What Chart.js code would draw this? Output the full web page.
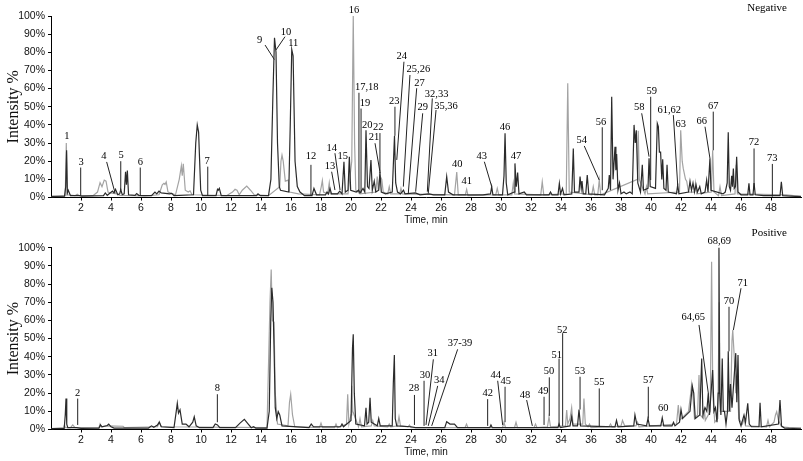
<!DOCTYPE html>
<html>
<head>
<meta charset="utf-8">
<script src="https://cdn.jsdelivr.net/npm/chart.js@4.4.1/dist/chart.umd.min.js"></script>
<style>
  body { margin: 0; background: #fff; }
  .panel { position: absolute; left: 0; width: 803px; }
  #negWrap { top: 0; height: 230px; }
  #posWrap { top: 225px; height: 236px; }
</style>
</head>
<body>
<div id="negWrap" class="panel"><canvas id="negChart"></canvas></div>
<div id="posWrap" class="panel"><canvas id="posChart"></canvas></div>
<script>
// axis ticks
const timeTicks = [2, 4, 6, 8, 10, 12, 14, 16, 18, 20, 22, 24, 26, 28, 30, 32, 34, 36, 38, 40, 42, 44, 46, 48];
const pctTicks = [0, 10, 20, 30, 40, 50, 60, 70, 80, 90, 100];

// Negative mode trace, [time min, intensity %] - dark trace
const negDark = [
  [0.05,0.6],[0.9,0.7],[0.98,6],[1.04,26],[1.09,2.5],[1.15,4],[1.3,1],[1.9,1],[2.05,0.8],[3.5,1],[3.62,2.5],[3.75,1.2],
  [4.1,3.5],[4.2,2.5],[4.3,4.5],[4.45,1.5],[4.58,2],[4.65,4.4],[4.75,1.5],[4.88,2],[4.97,14.2],[5.03,7],[5.09,14.8],[5.17,1.5],
  [5.6,1.2],[5.71,2.2],[5.85,1.2],[6.7,1],[6.93,3],[7.05,2],[7.2,3.5],[7.35,2.5],[7.9,2],[8.05,2.3],[8.2,1],[9.5,1.5],
  [9.65,30],[9.75,40],[9.84,36],[9.98,4],[10.1,1],[11.0,1],[11.1,4.5],[11.15,4],[11.22,5],[11.35,1],[13.7,1],[13.8,2],[13.95,1],
  [14.5,1],[14.66,10],[14.79,55],[14.9,88],[14.95,84],[15.0,80],[15.1,30],[15.22,6],[15.3,4],[15.85,3],[15.95,40],[16.05,81.5],
  [16.14,78],[16.27,20],[16.42,6],[16.6,3],[16.9,1],[17.4,1],[17.53,5],[17.7,1.5],[18.3,1.5],[18.4,3],[18.5,2],[18.6,5],[18.7,2],
  [19.1,2],[19.25,3.5],[19.4,2],[19.53,19.7],[19.62,3],[19.8,4],[19.89,22.5],[19.98,4],[20.35,3],[20.5,4],[20.6,2.5],[20.8,5],
  [20.92,3],[21.0,37],[21.1,6],[21.2,5],[21.33,20.7],[21.42,4],[21.55,9],[21.65,3],[21.85,4],[21.93,14],[22.02,3],[22.3,2],
  [22.75,3],[22.9,34],[22.98,8],[23.1,3],[23.3,2],[23.5,4],[23.6,2],[24.3,2.5],[24.6,1.5],[25.2,2],[25.5,1.5],[26.25,1.5],
  [26.38,11.5],[26.5,3],[26.8,1.5],[28.8,1.5],[29.3,2],[29.38,6],[29.46,1.5],[30.1,1.5],[30.2,12],[30.27,35.4],[30.35,8],
  [30.45,1.5],[30.88,3],[30.93,18.8],[31.02,6],[31.11,13.7],[31.2,2],[31.55,3],[31.7,1.5],[33.2,1.5],[33.3,3],[33.4,1.5],
  [33.8,1.5],[33.89,7.8],[33.97,2],[34.1,5],[34.2,1.5],[34.72,2],[34.82,27],[34.9,3],[35.2,3],[35.27,11.5],[35.35,5],[35.4,9],
  [35.48,2],[35.65,2],[35.75,12.4],[35.85,2],[36.9,1.5],[37.15,5],[37.22,12.4],[37.3,4],[37.38,55.5],[37.47,10],[37.6,28],
  [37.66,15],[37.71,24],[37.8,4],[37.9,8],[38.0,2],[38.2,3],[38.35,2],[38.6,3],[38.75,2],[38.87,40],[38.95,30],[39.02,37],
  [39.12,8],[39.3,3],[39.42,18],[39.5,4],[39.8,5],[39.87,21.6],[39.95,6],[40.3,5],[40.42,40.8],[40.49,39],[40.56,25],[40.64,25],
  [40.72,10],[40.78,21],[40.86,5],[41.0,4],[41.07,18],[41.15,3],[41.7,2],[41.78,7],[41.86,2],[42.5,3],[42.6,9],[42.7,4],
  [42.8,8],[42.9,3],[43.0,7],[43.1,3],[43.25,6],[43.35,2],[43.6,3],[43.71,9.6],[43.8,3],[43.93,21.6],[44.0,4],[44.8,2],
  [44.95,3],[45.08,8],[45.15,36],[45.22,6],[45.3,4],[45.38,12],[45.43,6],[45.49,16],[45.55,5],[45.63,6],[45.71,22.5],[45.8,3],
  [46.0,1.5],[46.45,1.5],[46.53,7.8],[46.6,1.5],[46.8,1.5],[46.87,8],[46.95,1.5],[47.5,1],[48.6,1],[48.69,8.7],[48.78,1],
  [49.3,0.8],[50,0.5]
];
// Negative mode trace - light trace
const negLight = [
  [0.05,0.5],[0.95,1],[1.02,30],[1.08,1.5],[1.6,1],[1.75,1.8],[1.9,1],[2.8,1],[3.1,3],[3.27,8.2],[3.4,6],[3.55,9.6],[3.67,9],
  [3.8,3],[3.95,2.5],[4.4,2],[4.6,1.2],[5.5,1],[6.2,0.8],[7.2,1.5],[7.42,7],[7.53,7.8],[7.6,7.2],[7.68,8.6],[7.8,3],[8.3,1.5],
  [8.55,10],[8.69,17.4],[8.75,12],[8.82,18.6],[8.95,4],[9.15,3],[9.27,3.7],[9.4,1.5],[11.7,1],[12.1,3],[12.27,4.5],[12.4,4],
  [12.55,1.5],[12.75,4],[13.05,6.3],[13.3,4],[13.55,1.5],[14.5,1],[15.25,6],[15.33,20],[15.4,23.4],[15.48,20],[15.62,9],
  [15.82,9.6],[15.9,3],[16.5,2],[17.9,1.5],[18.02,6],[18.09,9.3],[18.17,3],[18.45,2],[18.55,8],[18.63,2],[19.8,2],[20.05,20],
  [20.15,100],[20.24,30],[20.32,4],[20.6,2],[21.65,3],[21.75,11.5],[21.82,4],[21.93,12],[22.05,10],[22.15,3],[22.45,2],
  [22.55,6],[22.65,2],[23.25,2],[23.33,5],[23.42,2],[26.9,1.5],[27.05,14],[27.15,1.5],[27.62,1.5],[27.71,4.5],[27.8,1],
  [29.65,1.5],[29.75,5],[29.85,1.5],[30.72,1.5],[30.82,8],[30.9,2],[32.65,1.5],[32.75,8.7],[32.85,1.5],[34.35,2],[34.45,63],
  [34.55,3],[36.05,1.5],[36.15,6],[36.25,1.5],[36.45,1.5],[36.55,9.6],[36.65,1.5],[39.1,10],[39.15,36.8],[39.22,10],[39.6,2],
  [39.7,6],[39.78,2],[41.9,3],[41.98,37],[42.08,20],[42.15,16],[42.3,10],[42.38,9],[42.5,3],[42.9,3],[42.97,8],[43.05,2],
  [44.02,3],[44.11,26],[44.2,3],[44.5,1],[44.6,6],[44.7,1],[45.6,2],[45.68,18],[45.76,2],[49.0,1.5],[49.5,1],[50,0.8]
];

// Positive mode trace - dark trace
const posDark = [
  [0.05,0.5],[0.88,0.6],[0.95,8],[1.0,17],[1.05,3],[1.12,1],[1.7,1],[2.0,0.6],[3.2,0.8],[3.3,2.5],[3.4,1.5],[3.75,2.2],[3.85,3],
  [4.0,1.5],[4.2,0.8],[6.5,0.8],[6.7,2],[6.85,1.2],[7.1,2.5],[7.22,4],[7.35,1.5],[8.2,1],[8.35,10],[8.42,14.4],[8.5,9],[8.6,10.8],
  [8.75,3],[9.0,3],[9.2,1.5],[9.45,4],[9.55,7],[9.68,2],[9.9,1],[10.8,1],[10.95,3],[11.1,2.5],[11.25,1],[12.3,1],[12.6,3.5],
  [12.89,5.6],[13.15,3],[13.35,1],[13.5,1.5],[13.65,0.8],[14.4,0.8],[14.55,10],[14.65,60],[14.72,78],[14.8,70],[14.87,45],
  [14.95,12],[15.05,6],[15.15,9.8],[15.25,8],[15.4,2],[17.2,1],[17.35,3],[17.5,1.5],[19.3,1.5],[19.4,3],[19.5,1.5],[20.0,5],
  [20.1,45],[20.15,52.4],[20.22,20],[20.32,3],[20.9,2],[21.0,12],[21.07,3],[21.18,4],[21.27,17.5],[21.35,4],[21.75,2],
  [21.85,6],[21.95,2],[22.75,2],[22.82,25],[22.89,41],[22.95,6],[23.05,2],[24.0,1.5],[24.3,1],[26.25,1],[26.38,4.3],[26.6,3],
  [26.9,3],[27.1,1],[29.25,1],[29.33,2.5],[29.42,1],[33.8,1],[33.87,3],[33.95,1],[34.6,2],[34.71,7],[34.8,2],[35.1,2],[35.2,11],
  [35.3,2],[37.6,1.5],[37.7,5],[37.8,1.5],[38.85,2],[38.93,8],[39.05,3],[39.7,2],[39.8,6],[39.9,2],[40.65,2],[40.75,6.4],
  [40.85,2],[41.4,2],[41.5,4],[41.6,2],[41.9,4],[42.0,11],[42.1,6],[42.6,10],[42.75,24],[42.85,20],[42.95,6],[43.25,8],
  [43.38,39],[43.46,8],[43.6,12],[43.72,10],[43.82,20],[43.9,8],[44.11,32.7],[44.2,10],[44.3,12],[44.4,4],[44.48,20],
  [44.53,100.5],[44.58,20],[44.66,8],[44.75,39],[44.82,10],[44.9,10],[45.0,3],[45.1,10],[45.15,43],[45.22,10],[45.3,25],
  [45.4,12],[45.55,30],[45.65,42],[45.72,15],[45.8,41],[45.88,5],[46.0,2],[46.2,8],[46.3,4],[46.45,14.4],[46.55,3],[46.7,1.5],
  [47.2,1.5],[47.27,14.7],[47.35,1.5],[48.5,3],[48.6,16.2],[48.7,2],[48.9,0.8],[49.5,0.6],[50,0.7]
];
// Positive mode trace - light trace
const posLight = [
  [0.05,0.5],[0.85,1],[0.9,2.5],[0.95,1],[1.3,1],[1.45,2.5],[1.6,1],[3.2,1],[3.27,3],[3.35,1.5],[3.8,2],[4.8,1.8],[4.9,1],
  [7.1,1.5],[7.22,4.3],[7.35,1.5],[14.4,1],[14.6,70],[14.68,88],[14.76,60],[14.87,59],[14.95,20],[15.1,3],[15.8,2],[15.9,15],
  [15.98,19.4],[16.1,8],[16.25,1.5],[17.9,1],[18.0,3.5],[18.1,1],[18.9,1],[19.0,3],[19.1,1],[19.7,3],[19.78,19.4],[19.86,3],
  [20.0,8],[20.05,24],[20.12,10],[20.5,1.5],[20.6,6],[20.7,1.5],[21.35,2],[21.45,5],[21.55,2],[22.45,1.5],[22.55,3],[22.65,1.5],
  [23.1,2],[23.2,7],[23.3,2],[23.8,1.5],[23.9,2.5],[24.0,1],[25.0,1],[27.6,1],[27.7,3],[27.8,1],[30.1,1],[30.2,4],[30.3,1],
  [30.9,1],[31.0,4],[31.1,1],[32.2,1],[32.3,3],[32.4,1],[33.1,1.5],[33.2,7],[33.3,1.5],[34.3,2],[34.38,10.7],[34.45,3],[34.6,6],
  [34.71,12],[34.8,3],[35.45,3],[35.53,17],[35.62,3],[35.8,1.5],[35.9,3],[36.0,1],[37.2,1.5],[37.3,3],[37.4,1.5],[38.0,2],
  [38.1,5],[38.25,2],[39.0,2],[39.1,4],[39.2,1.5],[41.7,3],[41.82,13.5],[41.9,5],[42.5,10],[42.65,20],[42.71,24.8],[42.8,18],
  [42.9,6],[43.1,8],[43.2,30],[43.28,8],[43.5,6],[43.55,12],[43.62,5],[43.95,10],[44.04,92.3],[44.12,20],[44.25,4],[44.45,6],
  [44.55,70],[44.62,10],[45.3,10],[45.4,49],[45.45,54.7],[45.55,40],[45.65,20],[45.75,30],[45.85,6],[46.1,3],[46.2,6],[46.3,2],
  [47.7,1.5],[47.8,5],[47.9,1.5],[48.2,4],[48.3,8],[48.38,9.8],[48.5,5],[48.7,1.5],[49.2,1],[50,0.7]
];

// peak labels: [text, label time, label %, leader from time, from %, to time, to %]
const negMarks = [
  ['1', 1.05, 34], ['3', 2.0, 19.6, 1.98, 16.5, 1.98, 1], ['4', 3.53, 22.9, 3.71, 19.6, 4.27, 2.5],
  ['5', 4.67, 23.4, 4.65, 20, 4.65, 4], ['6', 5.95, 19.6, 5.95, 16.5, 5.95, 1], ['7', 10.4, 20, 10.45, 17, 10.45, 1],
  ['9', 13.91, 86.4, 14.27, 84, 14.89, 76], ['10', 15.67, 91.3, 15.6, 88.6, 15.0, 81.3], ['11', 16.15, 85],
  ['12', 17.33, 22.5, 17.33, 18, 17.33, 1.4], ['13', 18.6, 17, 18.71, 14.2, 18.93, 4.1],
  ['14', 18.71, 27.1, 18.93, 24.4, 19.27, 4.1], ['15', 19.45, 22.9], ['16', 20.2, 103.3],
  ['17,18', 21.05, 60.7, 20.53, 57.7, 20.53, 3], ['19', 20.93, 52.2, 20.67, 49, 20.67, 2.5], ['20', 21.09, 40],
  ['22', 21.82, 38.7, 21.93, 35.5, 21.93, 13.5], ['21', 21.53, 33, 21.6, 29.9, 21.93, 14.2],
  ['23', 22.89, 53.3, 22.93, 50, 22.93, 34], ['24', 23.38, 78, 23.53, 74.8, 23.05, 20.7],
  ['25,26', 24.49, 70.8, 23.93, 67.5, 23.49, 6], ['27', 24.56, 62.9, 24.38, 60.2, 23.82, 2.3],
  ['29', 24.78, 49.7, 24.78, 46.4, 24.31, 3.2], ['32,33', 25.71, 57, 25.42, 54.6, 25.09, 3.2],
  ['35,36', 26.33, 50.4, 25.67, 48.2, 25.15, 2.3], ['40', 27.09, 18.3], ['41', 27.71, 8.7],
  ['43', 28.71, 22.9, 28.89, 19.7, 29.38, 6], ['46', 30.27, 38.7], ['47', 31.0, 22.5],
  ['54', 35.38, 31.3, 35.55, 28.4, 36.55, 9.6], ['56', 36.67, 41.2, 36.75, 38.7, 36.75, 4],
  ['58', 39.22, 50, 39.38, 46.4, 39.87, 22.5], ['59', 40.05, 58.8, 39.98, 55.5, 39.98, 9.6],
  ['61,62', 41.22, 48.2, 41.49, 45.4, 41.78, 6.9], ['63', 41.98, 40.3],
  ['66', 43.38, 41.8, 43.6, 39, 43.93, 21.6], ['67', 44.15, 50.4, 44.15, 47.3, 44.15, 26],
  ['72', 46.87, 30.2, 46.87, 27, 46.87, 5], ['73', 48.09, 21.6, 48.09, 18.5, 48.09, 0.5]
];
const posMarks = [
  ['2', 1.78, 19.9, 1.78, 17, 1.78, 2.5], ['8', 11.09, 22.7, 11.09, 19.4, 11.09, 4],
  ['28', 24.2, 22.7, 24.23, 19, 24.23, 2.5], ['30', 24.93, 30, 24.87, 26.8, 24.87, 2],
  ['31', 25.45, 41.9, 25.49, 38.6, 25.0, 2.5], ['34', 25.89, 27.2, 25.78, 24, 25.15, 2],
  ['37-39', 27.27, 47.4, 27.11, 44.1, 25.38, 2], ['42', 29.11, 19.9, 29.11, 16.7, 29.11, 2],
  ['44', 29.65, 30, 29.78, 26.8, 30.11, 2.5], ['45', 30.31, 26.8, 30.27, 23.5, 30.27, 4],
  ['48', 31.6, 19, 31.71, 16.2, 32.09, 2], ['49', 32.82, 21.3, 32.87, 18, 32.87, 2.5],
  ['50', 33.2, 32.3, 33.22, 28.7, 33.22, 7.5], ['51', 33.71, 41, 33.87, 39, 33.87, 2],
  ['52', 34.09, 54.7, 34.11, 53, 34.11, 2], ['53', 35.27, 31.8, 35.27, 29, 35.27, 11],
  ['55', 36.55, 26, 36.55, 22.6, 36.55, 1.5], ['57', 39.82, 27.2, 39.82, 23.5, 39.82, 6],
  ['60', 40.82, 11.7], ['64,65', 42.82, 61.5, 43.2, 57.5, 43.82, 20], ['68,69', 44.55, 103.7],
  ['70', 45.2, 70.3, 45.2, 67.5, 45.2, 43], ['71', 46.11, 80.4, 46.0, 77.7, 45.49, 54.7]
];

const sansFont = 'Liberation Sans, Arial, sans-serif';
const serifFont = 'Liberation Serif, Times New Roman, serif';

function markPlugin(marks, name) {
  return {
    id: 'peakMarks',
    afterDatasetsDraw(chart) {
      const { ctx, scales: { x, y } } = chart;
      ctx.save();
      ctx.strokeStyle = '#222';
      ctx.lineWidth = 1;
      ctx.fillStyle = '#000';
      ctx.font = '10.5px ' + serifFont;
      ctx.textAlign = 'center';
      ctx.textBaseline = 'middle';
      marks.forEach(m => {
        if (m.length > 3) {
          ctx.beginPath();
          ctx.moveTo(x.getPixelForValue(m[3]), y.getPixelForValue(m[4]));
          ctx.lineTo(x.getPixelForValue(m[5]), y.getPixelForValue(m[6]));
          ctx.stroke();
        }
        ctx.fillText(m[0], x.getPixelForValue(m[1]), y.getPixelForValue(m[2]));
      });
      ctx.font = '11px ' + serifFont;
      ctx.textAlign = 'right';
      ctx.fillText(name, chart.chartArea.right - 14, 8);
      ctx.restore();
    }
  };
}

function toPoints(arr) {
  return arr.map(p => ({ x: p[0], y: p[1] }));
}

function makeChart(id, dark, light, marks, name, padTop, padBottom) {
  return new Chart(document.getElementById(id), {
    type: 'line',
    data: {
      datasets: [{
        data: toPoints(dark),
        borderColor: '#2b2b2b',
        borderWidth: 1.2,
        pointRadius: 0,
        tension: 0
      },
      {
        data: toPoints(light),
        borderColor: '#a3a3a3',
        borderWidth: 1.2,
        pointRadius: 0,
        tension: 0
      }]
    },
    options: {
      animation: false,
      responsive: true,
      maintainAspectRatio: false,
      layout: { padding: { top: padTop, right: 2, left: 0, bottom: padBottom } },
      plugins: {
        legend: { display: false },
        tooltip: { enabled: false }
      },
      scales: {
        x: {
          type: 'linear',
          min: 0,
          max: 50,
          afterBuildTicks: s => { s.ticks = timeTicks.map(v => ({ value: v })); },
          afterFit: s => { s.height = 29; },
          ticks: { color: '#111', font: { family: sansFont, size: 10.5 }, padding: 1, maxRotation: 0, autoSkip: false },
          grid: { drawOnChartArea: false, tickLength: 3, color: '#000' },
          border: { color: '#000', width: 1 },
          title: { display: true, text: 'Time, min', color: '#111', font: { family: sansFont, size: 10 }, padding: 0 }
        },
        y: {
          min: 0,
          max: 100,
          afterBuildTicks: s => { s.ticks = pctTicks.map(v => ({ value: v })); },
          afterFit: s => { s.width = 51; },
          ticks: { color: '#111', font: { family: sansFont, size: 10.5 }, padding: 3, callback: v => v + '%' },
          grid: { drawOnChartArea: false, tickLength: 3, color: '#000' },
          border: { color: '#000', width: 1 },
          title: { display: true, text: 'Intensity %', color: '#111', font: { family: serifFont, size: 16 }, padding: { top: 4, bottom: 0 } }
        }
      }
    },
    plugins: [markPlugin(marks, name)]
  });
}

makeChart('negChart', negDark, negLight, negMarks, 'Negative', 16, 3.5);
makeChart('posChart', posDark, posLight, posMarks, 'Positive', 22.7, 2.5);
</script>
</body>
</html>
